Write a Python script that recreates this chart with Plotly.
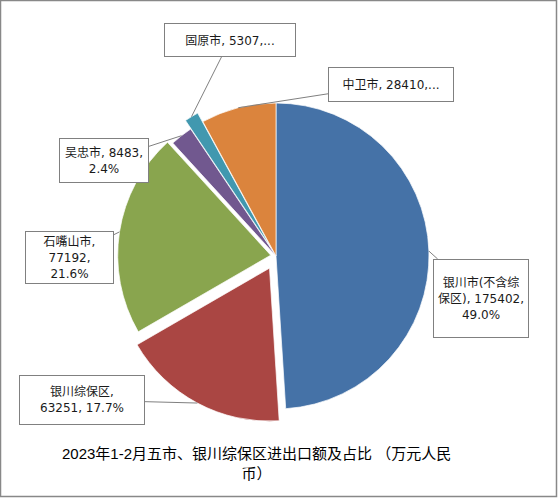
import math
import plotly.graph_objects as go

# 2023年1-2月 各市进出口额（万元人民币）
labels = ['银川市(不含综保区)', '银川综保区', '石嘴山市', '吴忠市', '固原市', '中卫市']
values = [175402, 63251, 77192, 8483, 5307, 28410]
colors = ['#4572A7', '#AA4643', '#89A54E', '#71588F', '#4198AF', '#DB843D']
pulls = [0, 0.09, 0.035, 0, 0.065, 0]

# 标签文字模板（换行方式照原图）
label_tpl = [
    '银川市(不含综<br>保区), {v},<br>{p}',
    '银川综保区,<br>{v}, {p}',
    '石嘴山市,<br>{v},<br>{p}',
    '吴忠市, {v},<br>{p}',
    '固原市, {v},...',
    '中卫市, {v},...',
]
# 标签框中心位置和大小（像素）
label_box = [
    (481, 298, 96, 79),
    (82, 400, 126, 50),
    (69, 257, 89, 53),
    (104, 161, 90, 45),
    (230, 40, 132, 34),
    (391, 84, 126, 35),
]

W, H = 558, 498
CX, CY, R = 276, 256, 153
half = R * (1 + max(pulls))

fig = go.Figure(go.Pie(
    labels=labels, values=values, pull=pulls,
    sort=False, direction='clockwise', rotation=0,
    marker=dict(colors=colors, line=dict(color='rgba(255,255,255,0.7)', width=1)),
    textinfo='none', hoverinfo='label+value+percent',
    domain=dict(x=[(CX - half) / W, (CX + half) / W],
                y=[1 - (CY + half) / H, 1 - (CY - half) / H]),
    showlegend=False,
))

# 引导线指向每块扇形的中点
total = sum(values)
cum = 0
for v, pl, tpl, (bx, by, bw, bh) in zip(values, pulls, label_tpl, label_box):
    mid = (cum + v / 2) / total
    cum += v
    a = 2 * math.pi * mid
    hx = CX + R * (1 + pl) * math.sin(a)
    hy = CY - R * (1 + pl) * math.cos(a)
    fig.add_annotation(
        xref='paper', yref='paper', x=hx / W, y=1 - hy / H,
        ax=bx - hx, ay=by - hy,
        text=tpl.format(v=v, p=f'{v / total * 100:.1f}%'),
        showarrow=True, arrowhead=0, arrowwidth=1, arrowcolor='#808080',
        bordercolor='#808080', borderwidth=1, borderpad=2, bgcolor='white',
        width=bw - 6, height=bh - 6, align='center',
        font=dict(family='DejaVu Sans, Noto Sans CJK SC', size=12, color='#1a1a1a'),
    )

fig.add_annotation(
    xref='paper', yref='paper', x=256 / W, y=1 - 463 / H,
    xanchor='center', yanchor='middle',
    text='2023年1-2月五市、银川综保区进出口额及占比 （万元人民<br>币）',
    showarrow=False, align='center',
    font=dict(family='Liberation Sans, Noto Sans CJK SC', size=15, color='black'),
)

# 外框
fig.add_shape(type='rect', xref='paper', yref='paper',
              x0=0.5 / W, x1=556.5 / W, y0=1 - 496.5 / H, y1=1 - 0.5 / H,
              line=dict(color='#888888', width=1.5))

fig.update_layout(
    width=W, height=H, margin=dict(l=0, r=0, t=0, b=0),
    paper_bgcolor='white', plot_bgcolor='white',
)

fig.write_html('out.html', config={'displayModeBar': False},
               post_script="document.body.style.margin='0';")
